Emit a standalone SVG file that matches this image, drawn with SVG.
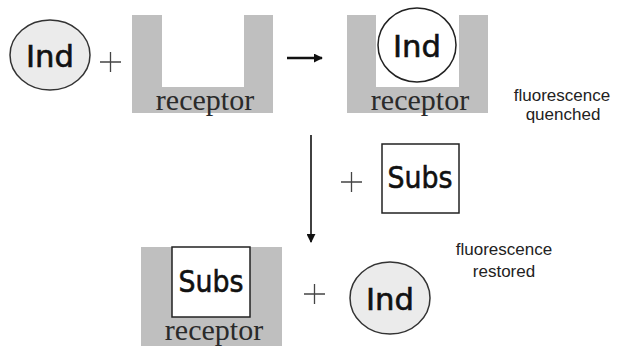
<svg xmlns="http://www.w3.org/2000/svg" width="617" height="346" viewBox="0 0 617 346">
<style>
.grey{fill:#bfbfbf}
.notch{fill:#fff}
.rec{font-family:"Liberation Serif",serif;font-size:30px;fill:#2a2a2a;text-anchor:middle}
.lbl{font-family:"DejaVu Sans",sans-serif;font-size:30px;fill:#111;text-anchor:middle;stroke:#111;stroke-width:0.6}
.note{font-family:"Liberation Sans",Arial,sans-serif;font-size:17px;fill:#222;text-anchor:middle}
.ell{fill:#ebebeb;stroke:#333;stroke-width:1.5}
.wht{fill:#fff;stroke:#222;stroke-width:1.5}
.plus{stroke:#444;stroke-width:1.3;fill:none}
.conn{fill:none;stroke:#111}
</style>
<defs>
<marker id="ah" viewBox="0 0 10 10" refX="9" refY="5" markerWidth="9" markerHeight="9" orient="auto" markerUnits="userSpaceOnUse">
<path d="M0,0 L10,5 L0,10 z" fill="#111"/>
</marker>
</defs>
<rect width="617" height="346" fill="#fff"/>
<g id="ind1">
<ellipse class="ell" cx="50" cy="55" rx="40" ry="35"/>
<text class="lbl" x="50" y="67" textLength="48" lengthAdjust="spacingAndGlyphs">Ind</text>
</g>
<g id="plus1"><path class="plus" d="M100,62 H121 M110.5,52 V72"/></g>
<g id="receptor1">
<rect class="grey" x="132" y="15" width="141" height="98"/>
<rect class="notch" x="162" y="15" width="82" height="72"/>
<text class="rec" x="205" y="110">receptor</text>
</g>
<g id="complex1">
<rect class="grey" x="347" y="15" width="141" height="98"/>
<rect class="notch" x="376" y="15" width="83" height="72"/>
<ellipse class="wht" cx="417" cy="45" rx="39" ry="37"/>
<text class="lbl" x="417" y="57" textLength="48" lengthAdjust="spacingAndGlyphs">Ind</text>
<text class="rec" x="420" y="110">receptor</text>
</g>
<g id="note1">
<text class="note" x="562" y="101">fluorescence</text>
<text class="note" x="563" y="120">quenched</text>
</g>
<g id="plus2"><path class="plus" d="M341,182 H362 M351.5,172 V192"/></g>
<g id="subs1">
<rect class="wht" x="382" y="144" width="77" height="69"/>
<text class="lbl" x="420" y="188" textLength="65" lengthAdjust="spacingAndGlyphs">Subs</text>
</g>
<g id="complex2">
<rect class="grey" x="141" y="247" width="141" height="99"/>
<rect class="wht" x="172" y="247" width="78" height="70"/>
<text class="lbl" x="211" y="292" textLength="65" lengthAdjust="spacingAndGlyphs">Subs</text>
<text class="rec" x="214" y="340">receptor</text>
</g>
<g id="plus3"><path class="plus" d="M304,294 H325 M314.5,284 V304"/></g>
<g id="ind2">
<ellipse class="ell" cx="390" cy="298" rx="40" ry="36"/>
<text class="lbl" x="390" y="310" textLength="48" lengthAdjust="spacingAndGlyphs">Ind</text>
</g>
<g id="note2">
<text class="note" x="504" y="255">fluorescence</text>
<text class="note" x="504" y="277">restored</text>
</g>
<g id="connectors">
<line class="conn" stroke-width="2.5" x1="287" y1="58" x2="322" y2="58" marker-end="url(#ah)"/>
<line class="conn" stroke-width="1.6" x1="311" y1="135" x2="311" y2="242" marker-end="url(#ah)"/>
</g>
</svg>
